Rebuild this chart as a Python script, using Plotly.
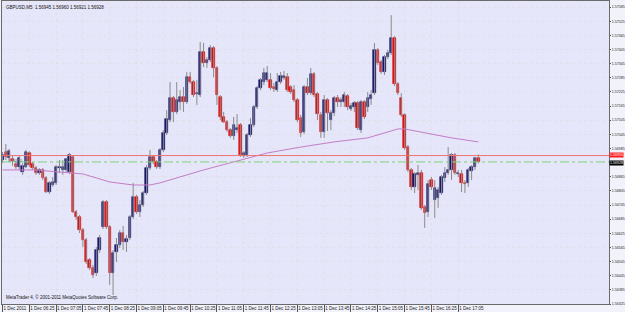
import plotly.graph_objects as go
import pandas as pd

# ---------------- data ----------------
symbol_title = "GBPUSD,M5  1.56945 1.56960 1.56921 1.56928"
copyright_text = "MetaTrader 4, © 2001-2011 MetaQuotes Software Corp."
start_time = "2011-12-01 05:45"
n_bars = 143

opens = [1.56936, 1.56970, 1.56945, 1.56940, 1.56919, 1.56906, 1.56885, 1.56906, 1.56966, 1.56919,
         1.56902, 1.56881, 1.56894, 1.56860, 1.56800, 1.56830, 1.56839, 1.56902, 1.56894, 1.56894,
         1.56885, 1.56949, 1.56716, 1.56694, 1.56639, 1.56597, 1.56512, 1.56478, 1.56457, 1.56554,
         1.56652, 1.56758, 1.56652, 1.56457, 1.56546, 1.56575, 1.56626, 1.56588, 1.56605, 1.56694,
         1.56779, 1.56716, 1.56745, 1.56796, 1.56902, 1.56949, 1.56928, 1.56906, 1.56979, 1.57051,
         1.57106, 1.57199, 1.57140, 1.57182, 1.57203, 1.57182, 1.57288, 1.57267, 1.57216, 1.57212,
         1.57394, 1.57348, 1.57360, 1.57411, 1.57327, 1.57203, 1.57119, 1.57097, 1.57063, 1.57038,
         1.57063, 1.57085, 1.56953, 1.56957, 1.57042, 1.57085, 1.57161, 1.57242, 1.57267, 1.57276,
         1.57276, 1.57246, 1.57233, 1.57267, 1.57284, 1.57288, 1.57246, 1.57233, 1.57191, 1.57114,
         1.57055, 1.57246, 1.57220, 1.57301, 1.57216, 1.57127, 1.57055, 1.57191, 1.57106, 1.57135,
         1.57199, 1.57182, 1.57182, 1.57208, 1.57153, 1.57161, 1.57178, 1.57063, 1.57182, 1.57161,
         1.57195, 1.57220, 1.57403, 1.57352, 1.57310, 1.57373, 1.57390, 1.57454, 1.57259, 1.57199,
         1.57127, 1.56991, 1.56894, 1.56822, 1.56873, 1.56881, 1.56737, 1.56716, 1.56851, 1.56766,
         1.56775, 1.56796, 1.56860, 1.56881, 1.56894, 1.56957, 1.56877, 1.56877, 1.56839, 1.56839,
         1.56889, 1.56906, 1.56945]
highs = [1.56970, 1.57004, 1.56983, 1.56957, 1.56932, 1.56953, 1.56923, 1.56979, 1.56974, 1.56928,
         1.56911, 1.56902, 1.56902, 1.56868, 1.56847, 1.56864, 1.56915, 1.56936, 1.56936, 1.56945,
         1.56966, 1.56957, 1.56724, 1.56703, 1.56648, 1.56605, 1.56520, 1.56491, 1.56567, 1.56618,
         1.56766, 1.56766, 1.56660, 1.56554, 1.56605, 1.56639, 1.56656, 1.56618, 1.56703, 1.56839,
         1.56788, 1.56766, 1.56805, 1.56915, 1.56979, 1.56957, 1.56936, 1.56987, 1.57063, 1.57148,
         1.57267, 1.57208, 1.57267, 1.57233, 1.57246, 1.57310, 1.57310, 1.57276, 1.57276, 1.57437,
         1.57433, 1.57373, 1.57424, 1.57420, 1.57335, 1.57212, 1.57140, 1.57106, 1.57072, 1.57119,
         1.57131, 1.57093, 1.56974, 1.57051, 1.57114, 1.57170, 1.57250, 1.57284, 1.57327, 1.57335,
         1.57305, 1.57263, 1.57305, 1.57310, 1.57314, 1.57305, 1.57254, 1.57254, 1.57199, 1.57127,
         1.57254, 1.57284, 1.57327, 1.57310, 1.57225, 1.57140, 1.57212, 1.57199, 1.57148, 1.57208,
         1.57212, 1.57203, 1.57225, 1.57216, 1.57178, 1.57187, 1.57187, 1.57191, 1.57191, 1.57225,
         1.57233, 1.57433, 1.57411, 1.57360, 1.57382, 1.57403, 1.57551, 1.57462, 1.57267, 1.57220,
         1.57135, 1.57000, 1.56902, 1.56885, 1.56915, 1.56894, 1.56745, 1.56851, 1.56864, 1.56851,
         1.56822, 1.56873, 1.56906, 1.56991, 1.56966, 1.56966, 1.56894, 1.56894, 1.56851, 1.56902,
         1.56915, 1.56949, 1.56960]
lows = [1.56923, 1.56936, 1.56928, 1.56911, 1.56898, 1.56894, 1.56873, 1.56902, 1.56906, 1.56894,
        1.56873, 1.56873, 1.56851, 1.56796, 1.56792, 1.56822, 1.56830, 1.56881, 1.56873, 1.56885,
        1.56877, 1.56711, 1.56682, 1.56626, 1.56567, 1.56495, 1.56469, 1.56435, 1.56444, 1.56542,
        1.56643, 1.56643, 1.56406, 1.56363, 1.56503, 1.56563, 1.56554, 1.56546, 1.56597, 1.56686,
        1.56707, 1.56694, 1.56737, 1.56788, 1.56894, 1.56919, 1.56898, 1.56898, 1.56970, 1.57042,
        1.57097, 1.57097, 1.57131, 1.57148, 1.57140, 1.57174, 1.57259, 1.57203, 1.57170, 1.57203,
        1.57331, 1.57327, 1.57352, 1.57288, 1.57170, 1.57106, 1.57093, 1.57055, 1.57030, 1.57021,
        1.57051, 1.56949, 1.56945, 1.56949, 1.57034, 1.57076, 1.57153, 1.57233, 1.57254, 1.57267,
        1.57233, 1.57225, 1.57225, 1.57259, 1.57276, 1.57225, 1.57216, 1.57182, 1.57097, 1.57034,
        1.57046, 1.57212, 1.57212, 1.57203, 1.57106, 1.57030, 1.57030, 1.57059, 1.57063, 1.57123,
        1.57161, 1.57161, 1.57161, 1.57148, 1.57144, 1.57140, 1.57063, 1.57051, 1.57110, 1.57140,
        1.57170, 1.57212, 1.57339, 1.57301, 1.57297, 1.57365, 1.57382, 1.57250, 1.57212, 1.57119,
        1.56979, 1.56885, 1.56809, 1.56796, 1.56809, 1.56724, 1.56648, 1.56694, 1.56809, 1.56690,
        1.56733, 1.56788, 1.56843, 1.56873, 1.56851, 1.56873, 1.56864, 1.56800, 1.56796, 1.56822,
        1.56851, 1.56894, 1.56921]
closes = [1.56957, 1.56949, 1.56974, 1.56932, 1.56906, 1.56945, 1.56911, 1.56970, 1.56915, 1.56902,
          1.56881, 1.56894, 1.56860, 1.56800, 1.56839, 1.56843, 1.56906, 1.56906, 1.56906, 1.56940,
          1.56957, 1.56716, 1.56694, 1.56639, 1.56597, 1.56503, 1.56478, 1.56448, 1.56554, 1.56605,
          1.56758, 1.56652, 1.56457, 1.56542, 1.56575, 1.56626, 1.56588, 1.56601, 1.56694, 1.56779,
          1.56716, 1.56745, 1.56796, 1.56902, 1.56949, 1.56928, 1.56906, 1.56979, 1.57051, 1.57110,
          1.57199, 1.57140, 1.57191, 1.57203, 1.57182, 1.57288, 1.57267, 1.57212, 1.57220, 1.57394,
          1.57348, 1.57360, 1.57411, 1.57327, 1.57212, 1.57119, 1.57097, 1.57063, 1.57038, 1.57085,
          1.57072, 1.56957, 1.56966, 1.57042, 1.57085, 1.57161, 1.57242, 1.57276, 1.57305, 1.57305,
          1.57242, 1.57237, 1.57267, 1.57292, 1.57292, 1.57233, 1.57225, 1.57191, 1.57106, 1.57051,
          1.57246, 1.57220, 1.57301, 1.57212, 1.57131, 1.57055, 1.57191, 1.57135, 1.57135, 1.57199,
          1.57182, 1.57191, 1.57212, 1.57161, 1.57165, 1.57178, 1.57072, 1.57182, 1.57119, 1.57199,
          1.57212, 1.57403, 1.57348, 1.57310, 1.57373, 1.57390, 1.57454, 1.57259, 1.57220, 1.57127,
          1.56987, 1.56894, 1.56822, 1.56877, 1.56881, 1.56733, 1.56711, 1.56834, 1.56822, 1.56817,
          1.56809, 1.56864, 1.56881, 1.56894, 1.56957, 1.56881, 1.56881, 1.56839, 1.56834, 1.56894,
          1.56906, 1.56945, 1.56928]

# moving average, read at selected bars
ma_bar_index = [0, 10, 17, 24, 32, 39, 44, 47, 60, 69, 79, 89, 99, 109, 118, 120, 126, 134, 142]
ma_values = [1.56894, 1.56894, 1.56885, 1.56877, 1.56843, 1.56830, 1.56830, 1.56839, 1.56894, 1.56928,
             1.56966, 1.56991, 1.57013, 1.57030, 1.57068, 1.57068, 1.57051, 1.57030, 1.57013]

red_level = 1.56955
bid_level = 1.56928

# the 1.56925 label is hidden behind the bid-price box in the reference
y_tick_values = [1.56325, 1.56385, 1.56445, 1.56505, 1.56565, 1.56625, 1.56685,
                 1.56745, 1.56805, 1.56865, 1.56925, 1.56985, 1.57045, 1.57105,
                 1.57165, 1.57225, 1.57285, 1.57345, 1.57405, 1.57465, 1.57525, 1.57585]
y_tick_labels = ["1.56325", "1.56385", "1.56445", "1.56505", "1.56565", "1.56625", "1.56685",
                 "1.56745", "1.56805", "1.56865", "", "1.56985", "1.57045", "1.57105",
                 "1.57165", "1.57225", "1.57285", "1.57345", "1.57405", "1.57465", "1.57525", "1.57585"]
x_tick_bar_index = [0, 8, 16, 24, 32, 40, 48, 56, 64, 72, 80, 88, 96, 104, 112, 120, 128, 136]
x_tick_labels = ["1 Dec 2011", "1 Dec 06:25", "1 Dec 07:05", "1 Dec 07:45", "1 Dec 08:25",
                 "1 Dec 09:05", "1 Dec 09:45", "1 Dec 10:25", "1 Dec 11:05", "1 Dec 11:45",
                 "1 Dec 12:25", "1 Dec 13:05", "1 Dec 13:45", "1 Dec 14:25", "1 Dec 15:05",
                 "1 Dec 15:45", "1 Dec 16:25", "1 Dec 17:05"]

# ---------------- styling ----------------
BULL = "#16166a"
BEAR = "#dd1111"
WICK = "#8a8a8a"
BG = "#E6E6FA"
FONT = "Liberation Sans"
GRID = "rgba(210,180,140,0.16)"

times = pd.date_range(start_time, periods=n_bars, freq="5min")
bar_ms = 5 * 60 * 1000

fig = go.Figure()

# wicks
wx, wy = [], []
for t, h, l in zip(times, highs, lows):
    wx += [t, t, None]
    wy += [l, h, None]
fig.add_trace(go.Scatter(x=wx, y=wy, mode="lines", line=dict(color=WICK, width=1),
                         hoverinfo="skip", showlegend=False))

# bodies
body_base = [min(o, c) for o, c in zip(opens, closes)]
body_h = [abs(c - o) for o, c in zip(opens, closes)]
body_col = [BULL if c >= o else BEAR for o, c in zip(opens, closes)]
fig.add_trace(go.Bar(x=times, y=body_h, base=body_base, width=bar_ms * 0.72,
                     marker=dict(color=body_col, line=dict(color=body_col, width=0.6)),
                     showlegend=False))

# moving average
fig.add_trace(go.Scatter(x=[times[i] for i in ma_bar_index], y=ma_values, mode="lines",
                         line=dict(color="#c47cc6", width=1), showlegend=False,
                         hoverinfo="skip"))

fig.add_hline(y=red_level, line=dict(color="#ee7474", width=1))
fig.add_hline(y=bid_level, line=dict(color="#7ed67e", width=1, dash="dashdot"))

x0 = times[0] - pd.Timedelta(seconds=45)
x1 = times[0] + pd.Timedelta(minutes=5 * 181)

fig.update_layout(
    width=625, height=312,
    margin=dict(l=2, r=16, t=1, b=8),
    paper_bgcolor="#F2F2FB", plot_bgcolor=BG,
    bargap=0, barmode="overlay",
    font=dict(family=FONT, size=4.5, color="#222222"),
    xaxis=dict(type="date", range=[x0, x1], tickvals=[times[i] for i in x_tick_bar_index],
               ticktext=x_tick_labels, ticks="outside", ticklen=7, tickcolor="#555555",
               tickangle=0, automargin=False,
               ticklabelposition="outside right", tickfont=dict(size=4.5, color="#222222"),
               showline=True, linecolor="#6a6a6a", linewidth=1, mirror=True,
               showgrid=True, gridcolor=GRID, griddash="dot", gridwidth=1,
               zeroline=False, fixedrange=True),
    yaxis=dict(side="right", range=[1.56325, 1.57611], tickvals=y_tick_values, ticktext=y_tick_labels,
               ticks="outside", ticklen=1, tickcolor="#555555", tickfont=dict(size=3.6, color="#222222"),
               automargin=False,
               showline=True, linecolor="#6a6a6a", linewidth=1, mirror=True,
               showgrid=True, gridcolor=GRID, griddash="dot", gridwidth=1,
               zeroline=False, fixedrange=True),
)

fig.add_annotation(xref="paper", yref="paper", x=0.004, y=0.995, xanchor="left", yanchor="top",
                   text=symbol_title, showarrow=False, font=dict(size=4.5, color="#111111"))
fig.add_annotation(xref="paper", yref="paper", x=0.004, y=0.005, xanchor="left", yanchor="bottom",
                   text=copyright_text, showarrow=False, font=dict(size=4.5, color="#111111"))
fig.add_annotation(xref="paper", yref="y", x=0.006, y=red_level, xanchor="left", yanchor="top",
                   text=f"{red_level:.5f}", showarrow=False, font=dict(size=4, color="#777777"))
fig.add_annotation(xref="paper", yref="y", x=1.0, y=red_level, xanchor="left", yanchor="middle",
                   text=f"{red_level:.5f}", showarrow=False, bgcolor="#ff1a1a",
                   font=dict(size=3.6, color="white"), borderpad=0, yshift=1)
fig.add_annotation(xref="paper", yref="y", x=1.0, y=bid_level, xanchor="left", yanchor="middle",
                   text=f"{bid_level:.5f}", showarrow=False, bgcolor="#000000",
                   font=dict(size=3.6, color="white"), borderpad=0, yshift=-1)

fig.write_html("out.html")
